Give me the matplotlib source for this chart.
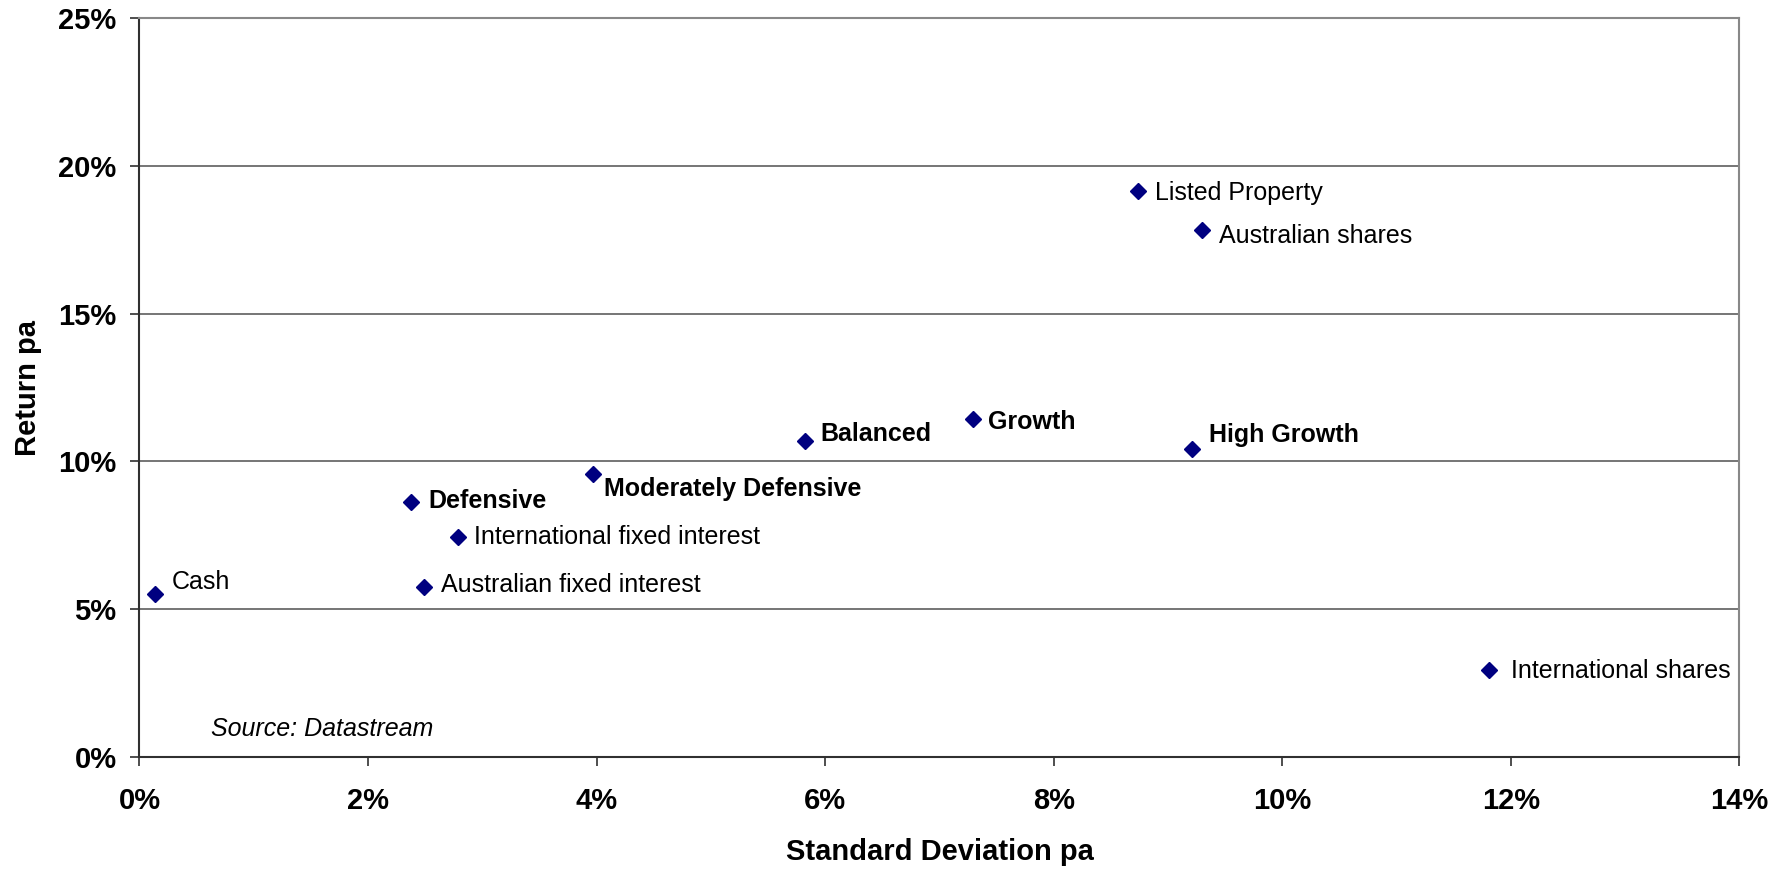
import matplotlib
matplotlib.use('Agg')
import matplotlib.pyplot as plt
from matplotlib.ticker import FuncFormatter, MultipleLocator

plt.rcParams['font.family'] = ['Liberation Sans', 'DejaVu Sans']

# Risk / return data (% pa)
names = ['Cash', 'Defensive', 'International fixed interest', 'Australian fixed interest',
         'Moderately Defensive', 'Balanced', 'Growth', 'High Growth',
         'Listed Property', 'Australian shares', 'International shares']
std_dev = [0.14, 2.38, 2.79, 2.49, 3.97, 5.82, 7.29, 9.21, 8.74, 9.30, 11.81]
returns = [5.51, 8.62, 7.44, 5.74, 9.56, 10.68, 11.45, 10.41, 19.16, 17.84, 2.96]
bold = [False, True, False, False, True, True, True, True, False, False, False]

# label offsets in points (dx, dy)
offsets = [(12, 10.5), (12, 3), (11.3, 1.5), (12.5, 3.5), (7.7, -9), (11.3, 7),
           (11.2, -1), (12.5, 12), (12, 0), (12.2, -3), (15.6, 1)]

fig = plt.figure(figsize=(17.9, 8.69), dpi=100)
ax = fig.add_axes([139.5 / 1790, 112 / 869, 1600 / 1790, 739 / 869])

ax.plot(std_dev, returns, linestyle='none', marker='D', markersize=8,
        color='#000080', zorder=3)

for name, x, y, b, (dx, dy) in zip(names, std_dev, returns, bold, offsets):
    ax.annotate(name, (x, y), xytext=(dx, dy), textcoords='offset points',
                fontsize=18, fontweight='bold' if b else 'normal',
                ha='left', va='center_baseline', color='black')

ax.text(0.045, 0.041, 'Source: Datastream', transform=ax.transAxes,
        fontsize=18, fontstyle='italic', ha='left', va='center_baseline')

ax.set_xlim(0, 14)
ax.set_ylim(0, 25)
ax.xaxis.set_major_locator(MultipleLocator(2))
ax.yaxis.set_major_locator(MultipleLocator(5))
pct = FuncFormatter(lambda v, p: f'{v:.0f}%')
ax.xaxis.set_major_formatter(pct)
ax.yaxis.set_major_formatter(pct)

ax.grid(axis='y', color='#505050', linewidth=1.1)
ax.set_axisbelow(True)

for side in ['top', 'right']:
    ax.spines[side].set_color('#888888')
    ax.spines[side].set_linewidth(1.5)
for side in ['left', 'bottom']:
    ax.spines[side].set_color('#303030')
    ax.spines[side].set_linewidth(1.5)

ax.tick_params(axis='both', direction='out', length=6.5, width=1.2, color='#303030',
               labelsize=21)
ax.tick_params(axis='x', pad=15)
ax.tick_params(axis='y', pad=10)
for lbl in ax.get_xticklabels() + ax.get_yticklabels():
    lbl.set_fontweight('bold')

ax.set_xlabel('Standard Deviation pa', fontsize=21, fontweight='bold', labelpad=17)
ax.set_ylabel('Return pa', fontsize=21, fontweight='bold', labelpad=12)

fig.savefig('out.png', dpi=100, facecolor='white')
